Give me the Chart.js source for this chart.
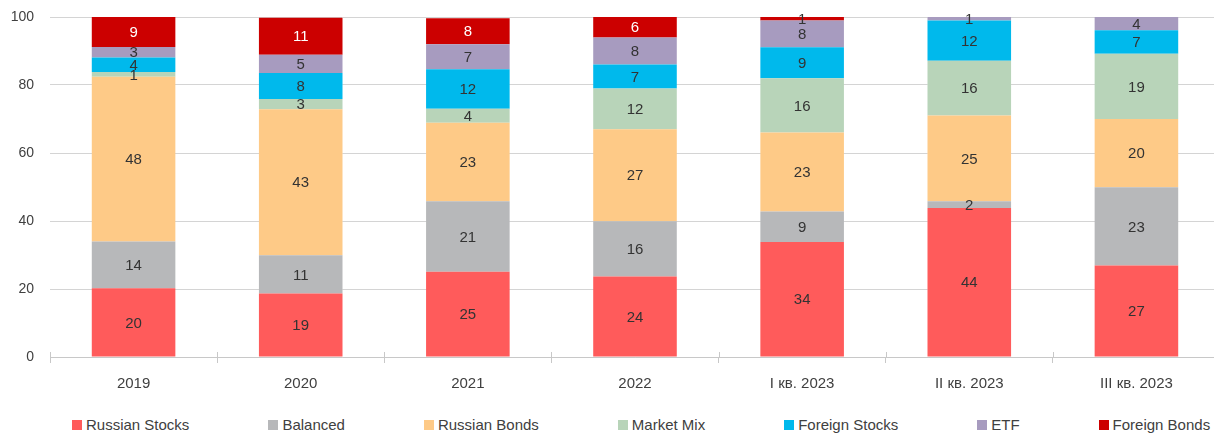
<!DOCTYPE html>
<html>
<head>
<meta charset="utf-8">
<script src="https://cdn.jsdelivr.net/npm/chart.js@4"></script>
<style>
  html, body { margin: 0; padding: 0; background: #fff; overflow: hidden; }
  #wrap { position: relative; width: 1220px; height: 439px; }
  #box { position: absolute; left: 0; top: 0; width: 1220px; height: 405px; }
  #legend { position: absolute; left: 72px; top: 416px; display: flex; align-items: center;
            font-family: "Liberation Sans", Arial, sans-serif; font-size: 15px; color: #404040; white-space: nowrap; }
  .item { display: flex; align-items: center; margin-right: 79px; }
  .sw { width: 10px; height: 10px; margin-right: 4px; }
</style>
</head>
<body>
<div id="wrap">
  <div id="box"><canvas id="c"></canvas></div>
  <div id="legend"></div>
</div>
<script>
const categories = ['2019', '2020', '2021', '2022', 'I кв. 2023', 'II кв. 2023', 'III кв. 2023'];
const seriesNames = ['Russian Stocks', 'Balanced', 'Russian Bonds', 'Market Mix', 'Foreign Stocks', 'ETF', 'Foreign Bonds'];
const russianStocks = [20.2, 18.7, 25.1, 23.7, 33.8, 43.8, 26.9];
const balanced      = [13.8, 11.2, 20.7, 16.2, 9.0, 2.0, 23.0];
const russianBonds  = [48.4, 43.0, 23.1, 27.1, 23.2, 25.2, 20.1];
const marketMix     = [1.4, 3.0, 4.1, 12.0, 16.0, 16.1, 19.2];
const foreignStocks = [4.3, 7.6, 11.6, 7.0, 9.1, 11.9, 6.9];
const etf           = [3.1, 5.4, 7.4, 8.0, 7.9, 1.0, 3.9];
const foreignBonds  = [8.8, 10.9, 7.6, 6.0, 1.0, 0, 0];
const yTicks = [0, 20, 40, 60, 80, 100];

const colors = ['#FF5B5B', '#B7B8BA', '#FECA87', '#B8D4B9', '#00B9EC', '#A79BBF', '#CC0000'];
const seriesData = [russianStocks, balanced, russianBonds, marketMix, foreignStocks, etf, foreignBonds];
const FONT = '"Liberation Sans", Arial, sans-serif';

const datasets = seriesData.map((d, i) => ({
  label: seriesNames[i],
  data: d,
  backgroundColor: colors[i],
  borderWidth: 0,
  barPercentage: 0.5,
  categoryPercentage: 1.0
}));

const labelPlugin = {
  id: 'segLabels',
  afterDatasetsDraw(chart) {
    const ctx = chart.ctx;
    ctx.save();
    ctx.font = '15px ' + FONT;
    ctx.textAlign = 'center';
    ctx.textBaseline = 'middle';
    chart.data.datasets.forEach((ds, di) => {
      const meta = chart.getDatasetMeta(di);
      meta.data.forEach((el, i) => {
        const v = ds.data[i];
        if (!v) return;
        const y = (el.y + el.base) / 2;
        const white = (di === 6 && v >= 2);
        ctx.fillStyle = white ? '#ffffff' : '#333333';
        ctx.fillText(String(Math.round(v)), el.x, y + 1);
      });
    });
    ctx.restore();
  }
};

const crossTicks = {
  id: 'crossTicks',
  afterDraw(chart) {
    const xs = chart.scales.x;
    const ctx = chart.ctx;
    const y0 = chart.chartArea.bottom;
    ctx.save();
    ctx.strokeStyle = '#c8c8c8';
    ctx.lineWidth = 1;
    const n = categories.length;
    const w = (xs.getPixelForValue(1) - xs.getPixelForValue(0));
    for (let i = 0; i <= n; i++) {
      const x = Math.round(xs.getPixelForValue(0) - w / 2 + i * w) + 0.5;
      ctx.beginPath();
      ctx.moveTo(x, y0 - 5);
      ctx.lineTo(x, y0);
      ctx.stroke();
    }
    ctx.restore();
  }
};

new Chart(document.getElementById('c'), {
  type: 'bar',
  data: { labels: categories, datasets },
  plugins: [labelPlugin, crossTicks],
  options: {
    responsive: true,
    maintainAspectRatio: false,
    animation: false,
    layout: { padding: { top: 17, right: 0, bottom: 0, left: 0 } },
    plugins: { legend: { display: false }, tooltip: { enabled: false } },
    scales: {
      x: {
        stacked: true,
        grid: { offset: true, drawOnChartArea: false, drawTicks: true, tickLength: 6, color: '#c8c8c8' },
        border: { color: '#c8c8c8', width: 1 },
        ticks: { color: '#404040', font: { family: FONT, size: 15 }, padding: 12, maxRotation: 0 }
      },
      y: {
        stacked: true,
        min: 0, max: 100,
        afterBuildTicks(scale) { scale.ticks = yTicks.map(v => ({ value: v })); },
        afterFit(scale) { scale.width = 50; scale.paddingTop = 0; scale.paddingBottom = 0; },
        grid: { drawTicks: false, color: '#d4d4d4', lineWidth: 1 },
        border: { display: false },
        ticks: { color: '#404040', font: { family: FONT, size: 14 }, padding: 16 }
      }
    }
  }
});

const lg = document.getElementById('legend');
seriesNames.forEach((name, i) => {
  const it = document.createElement('div');
  it.className = 'item';
  const sw = document.createElement('div');
  sw.className = 'sw';
  sw.style.background = colors[i];
  const tx = document.createElement('span');
  tx.textContent = name;
  it.appendChild(sw); it.appendChild(tx);
  lg.appendChild(it);
});
</script>
</body>
</html>
